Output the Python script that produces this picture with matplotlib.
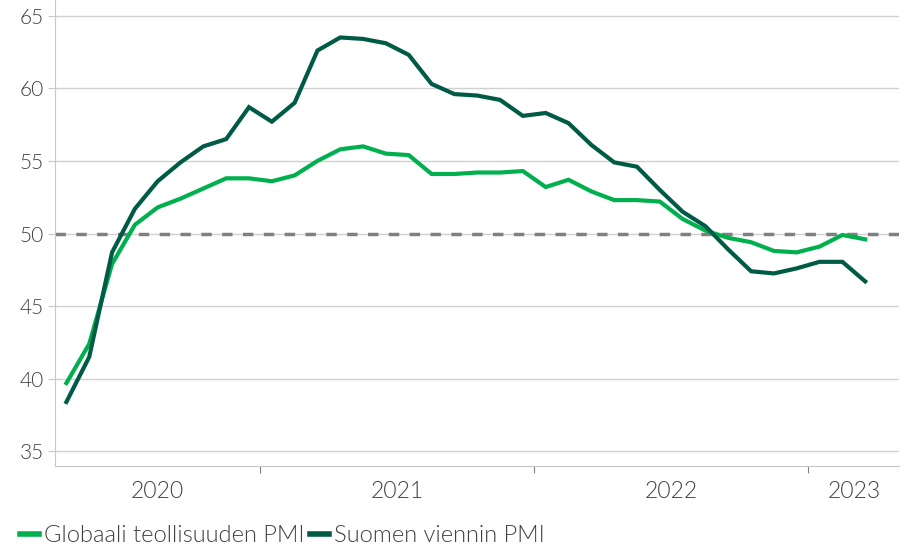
import matplotlib
matplotlib.use("Agg")
import matplotlib.pyplot as plt
from matplotlib.lines import Line2D

plt.rcParams['font.family'] = ['Lato', 'DejaVu Sans']
plt.rcParams['font.weight'] = 300

# monthly data, April 2020 - March 2023
globaali = [39.7, 42.4, 47.9, 50.6, 51.8, 52.4, 53.1, 53.8, 53.8, 53.6, 54.0, 55.0,
            55.8, 56.0, 55.5, 55.4, 54.1, 54.1, 54.2, 54.2, 54.3, 53.2, 53.7, 52.9,
            52.3, 52.3, 52.2, 51.0, 50.2, 49.7, 49.4, 48.8, 48.7, 49.1, 49.9, 49.6]
suomi = [38.4, 41.5, 48.7, 51.7, 53.6, 54.9, 56.0, 56.5, 58.7, 57.7, 59.0, 62.6,
         63.5, 63.4, 63.1, 62.3, 60.3, 59.6, 59.5, 59.2, 58.1, 58.3, 57.6, 56.1,
         54.9, 54.6, 53.0, 51.5, 50.5, 48.9, 47.4, 47.25, 47.6, 48.05, 48.05, 46.7]
years = ['2020', '2021', '2022', '2023']
year_centers = [4, 14.5, 26.5, 34.5]
year_bounds = [8.5, 20.5, 32.5]
yticks = [35, 40, 45, 50, 55, 60, 65]

GREEN = '#00B04F'
DARK = '#005B46'
TEXT = '#404040'

fig = plt.figure(figsize=(9.09, 5.5), dpi=100)
ax = fig.add_axes([0.0605, 0.153, 0.929, 0.847])

x = list(range(len(globaali)))
ax.axhline(50, color='#808080', lw=2.5, ls=(0, (3, 3)), zorder=2)
ax.plot(x, globaali, color=GREEN, lw=3, zorder=3, solid_joinstyle='miter')
ax.plot(x, suomi, color=DARK, lw=3, zorder=4, solid_joinstyle='miter')

ax.set_xlim(-0.5, 36.5)
ax.set_ylim(34, 66.08)
ax.set_yticks(yticks)
ax.set_yticklabels([str(v) for v in yticks])
ax.grid(axis='y', color='#D0D0D0', lw=1)
ax.set_axisbelow(True)

ax.set_xticks(year_bounds)
ax.set_xticklabels([])
for xc, yr in zip(year_centers, years):
    ax.text(xc, -0.056, yr, transform=ax.get_xaxis_transform(),
            ha='center', va='center', fontsize=16.5, color=TEXT)

for s in ['top', 'right']:
    ax.spines[s].set_visible(False)
for s in ['left', 'bottom']:
    ax.spines[s].set_color('#C8C8C8')
ax.tick_params(axis='y', length=5, color='#C8C8C8', labelsize=15, labelcolor=TEXT, pad=3)
ax.tick_params(axis='x', length=5, color='#808080')

handles = [Line2D([], [], color=GREEN, lw=4),
           Line2D([], [], color=DARK, lw=4)]
fig.legend(handles, ['Globaali teollisuuden PMI', 'Suomen viennin PMI'],
           loc='center left', bbox_to_anchor=(0.022, 0.0255), ncol=2, frameon=False,
           fontsize=17, labelcolor=TEXT, handlelength=0.8, handletextpad=0.2,
           columnspacing=0.25, borderpad=0, borderaxespad=0)

fig.savefig('out.png', dpi=100)
